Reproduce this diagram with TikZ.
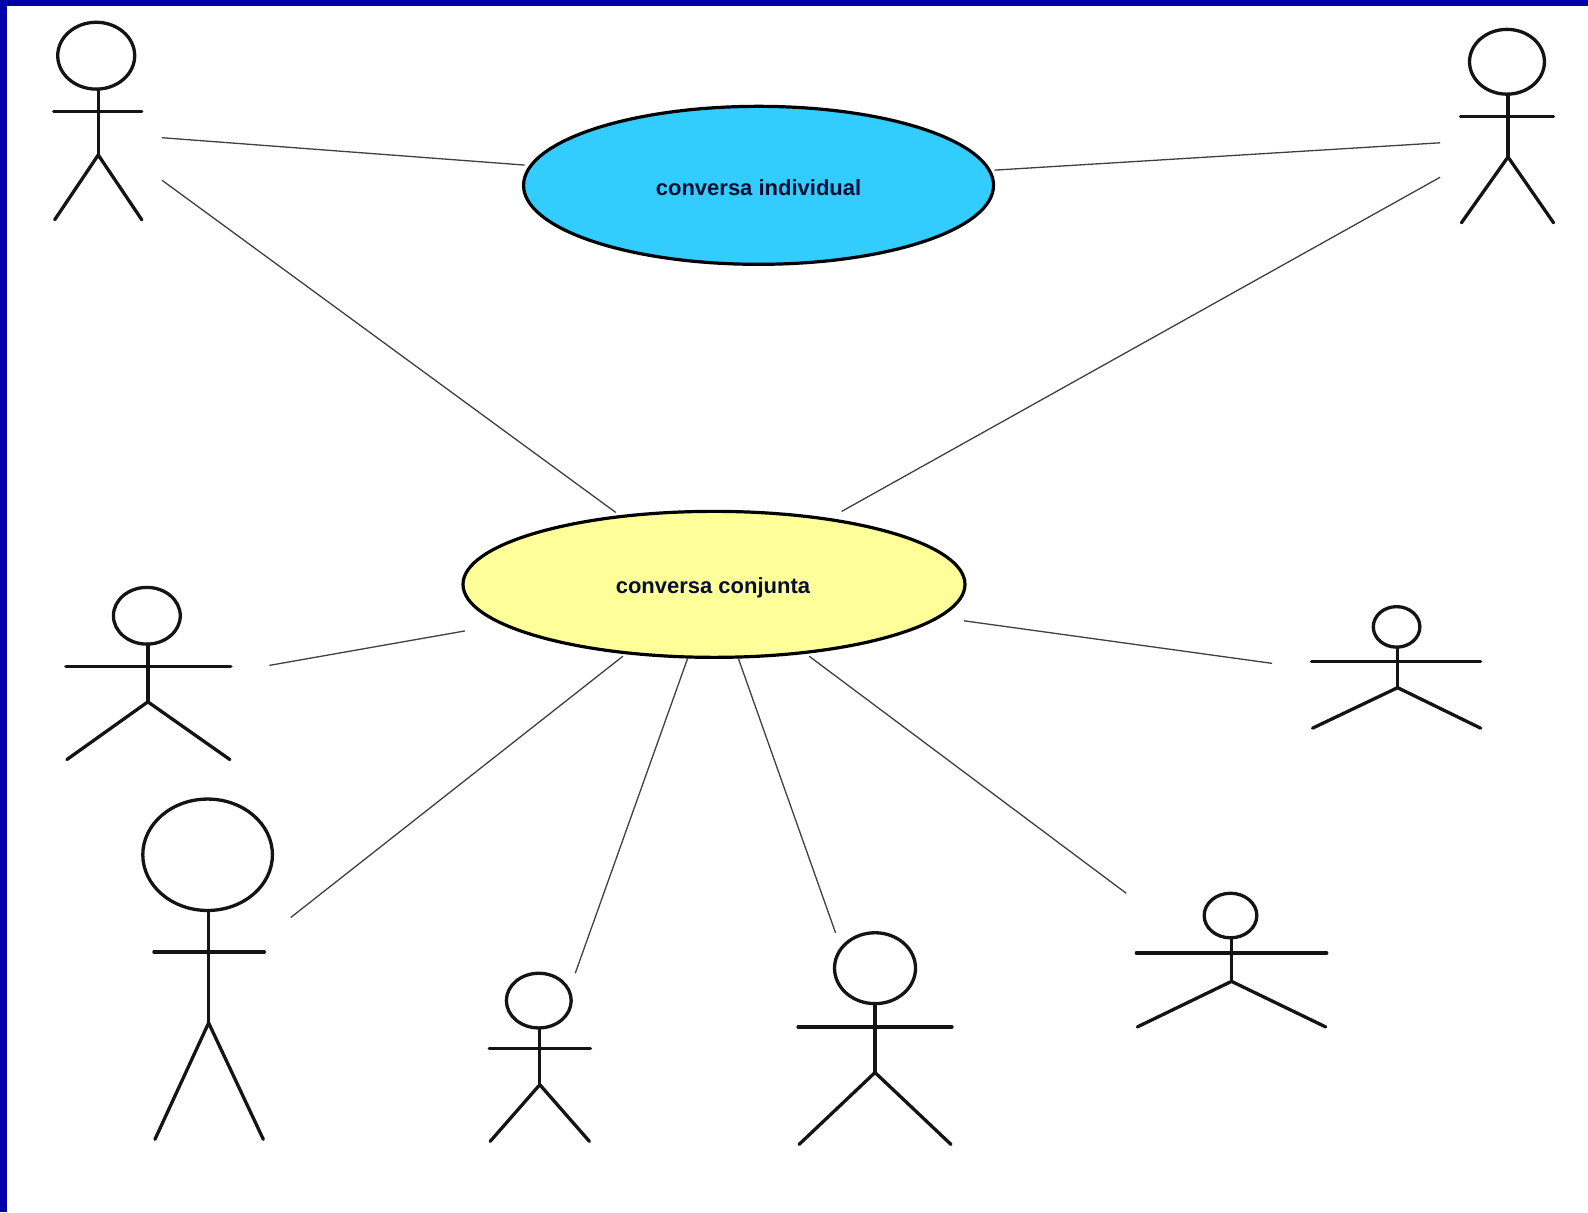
\documentclass[tikz,border=0pt]{standalone}
\usepackage{fontspec}
\setmainfont{Liberation Sans}
\usetikzlibrary{shapes.geometric}
\definecolor{framecol}{RGB}{0,0,170}
\definecolor{ucblue}{RGB}{51,204,255}
\definecolor{ucyellow}{RGB}{255,255,153}
\definecolor{txtcol}{RGB}{5,15,50}
\tikzset{
  usecase/.style={ellipse,draw=black,line width=3.2pt,inner sep=0pt,outer sep=0pt},
  uclabel/.style={inner sep=0pt,font=\bfseries\fontsize{22}{24}\selectfont,text=txtcol},
  actorhead/.style={ellipse,draw=black!92,line width=3.3pt,inner sep=0pt,outer sep=0pt},
  limb/.style={draw=black!92,line width=3.3pt,line cap=round,line join=round},
  assoc/.style={draw=black!75,line width=1.3pt},
}
\begin{document}
\begin{tikzpicture}[x=1.0128pt,y=-1.0128pt]
\useasboundingbox (0,0) rectangle (1568,1197);
\fill[white] (0,0) rectangle (1568,1197);
\fill[framecol] (0,0) rectangle (1568,6);
\fill[framecol] (0,0) rectangle (7,1197);
% use cases
\node[usecase,fill=ucblue,minimum width=470pt,minimum height=158pt] (ind) at (749,183) {};
\node[usecase,fill=ucyellow,minimum width=502pt,minimum height=146pt] (con) at (705,577) {};
\node[uclabel] (indlabel) at (749,185) {conversa individual};
\node[uclabel] (conlabel) at (704,580.5) {conversa conjunta};
% actors: name/head x/head y/rx/ry/body x/hip y/arm y/arm L/arm R/foot L/foot R/foot y
\foreach \n/\hx/\hy/\rx/\ry/\bx/\hip/\ay/\al/\ar/\fl/\fr/\fy in {
  a/95/55/38/33/97/153/110/53/140/54/140/217,
  b/1488/61/37/32/1489/155/115/1442/1534/1443/1534/220,
  c/145/608/33/28/146/693/658/65/228/66/227/750,
  d/205/844/64/55/206/1010/940/152/261/153/260/1125,
  e/532/988/32/27/533/1071/1035/483/583/484/582/1127,
  f/864/956/40/35/864/1059/1014/788/940/789/939/1130,
  g/1215/904/26/22/1216/969/941/1122/1310/1123/1309/1014,
  h/1379/619/23/20/1380/679/653/1295/1462/1296/1462/719}{
  \node[actorhead,minimum width=2.0256*\rx pt,minimum height=2.0256*\ry pt] (head\n) at (\hx,\hy) {};
  \coordinate (hip\n) at (\bx,\hip);
  \draw[limb] (hip\n |- head\n.south) -- (hip\n);
  \draw[limb] (\al,\ay) -- (\ar,\ay);
  \draw[limb] (\fl,\fy) -- (hip\n) -- (\fr,\fy);
}
% free ends of the connectors, near the actors
\coordinate (a1) at (160,136);
\coordinate (a2) at (160,178);
\coordinate (b1) at (1422,141);
\coordinate (b2) at (1422,175);
\coordinate (c1) at (266,657);
\coordinate (h1) at (1256,655);
\coordinate (d1) at (287,906);
\coordinate (e1) at (568,961);
\coordinate (f1) at (825,921);
\coordinate (g1) at (1112,882);
% free ends of the connectors, near the use cases
\coordinate (ia) at ([shift={(-231,-20)}]ind.center);
\coordinate (ib) at ([shift={(233,-15)}]ind.center);
\coordinate (ca) at ([shift={(-97,-71)}]con.center);
\coordinate (cb) at ([shift={(126,-72)}]con.center);
\coordinate (cc) at ([shift={(-246,46)}]con.center);
\coordinate (ch) at ([shift={(247,36)}]con.center);
\coordinate (cd) at ([shift={(-90,71)}]con.center);
\coordinate (ce) at ([shift={(-26,73)}]con.center);
\coordinate (cf) at ([shift={(24,73)}]con.center);
\coordinate (cg) at ([shift={(94,71)}]con.center);
% connectors
\draw[assoc] (a1) -- (ia);
\draw[assoc] (b1) -- (ib);
\draw[assoc] (a2) -- (ca);
\draw[assoc] (b2) -- (cb);
\draw[assoc] (c1) -- (cc);
\draw[assoc] (h1) -- (ch);
\draw[assoc] (d1) -- (cd);
\draw[assoc] (e1) -- (ce);
\draw[assoc] (f1) -- (cf);
\draw[assoc] (g1) -- (cg);
\end{tikzpicture}
\end{document}
